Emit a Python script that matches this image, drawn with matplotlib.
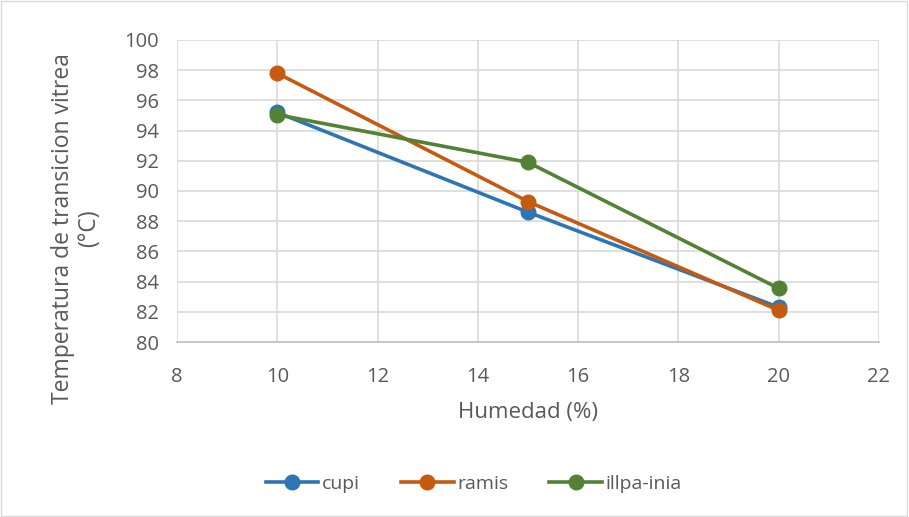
import matplotlib.pyplot as plt
from matplotlib.patches import Rectangle

humedad = [10, 15, 20]
cupi = [95.2, 88.6, 82.3]
ramis = [97.8, 89.3, 82.1]
illpa = [95.05, 91.9, 83.55]

seriesNames = ["cupi", "ramis", "illpa-inia"]
seriesColours = ["#2E75B6", "#C55A11", "#548235"]
textColour = "#595959"
gridColour = "#D9D9D9"

plt.rcParams['font.family'] = ['Open Sans', 'DejaVu Sans']

fig = plt.figure(figsize=(9.09, 5.17), dpi=100)
ax = fig.add_axes([177 / 909, 1 - 342 / 517, (879 - 177) / 909, (342 - 40) / 517])

for values, name, colour in zip([cupi, ramis, illpa], seriesNames, seriesColours):
    ax.plot(humedad, values, color=colour, linewidth=2.6, marker="o", markersize=10.5, label=name)

ax.set_xlim(8, 22)
ax.set_ylim(80, 100)
ax.set_xticks(range(8, 23, 2))
ax.set_yticks(range(80, 101, 2))
ax.grid(True, color=gridColour, linewidth=1.2)
ax.set_axisbelow(True)
ax.spines[['left', 'right', 'top']].set_visible(False)
ax.spines['bottom'].set_color("#BFBFBF")
ax.spines['bottom'].set_linewidth(1.2)
ax.tick_params(length=0, labelsize=14.5, labelcolor=textColour)
ax.tick_params(axis='x', pad=18)
ax.tick_params(axis='y', pad=13)

ax.set_xlabel("Humedad (%)", fontsize=16, color=textColour, labelpad=11)
ax.set_ylabel("Temperatura de transicion vitrea\n(°C)", fontsize=16.5, color=textColour,
              linespacing=1.12)
ax.yaxis.set_label_coords(-0.108, 0.377)

fig.legend(loc="center", bbox_to_anchor=(474 / 909, 1 - 484 / 517), ncol=3, frameon=False,
           fontsize=14, labelcolor=textColour, handlelength=2.7, handletextpad=0.2, columnspacing=2.1)

fig.patches.append(Rectangle((0.001, 0.002), 0.997, 0.996, transform=fig.transFigure,
                             fill=False, edgecolor="#D9D9D9", linewidth=1))

plt.savefig("out.png", dpi=100)
